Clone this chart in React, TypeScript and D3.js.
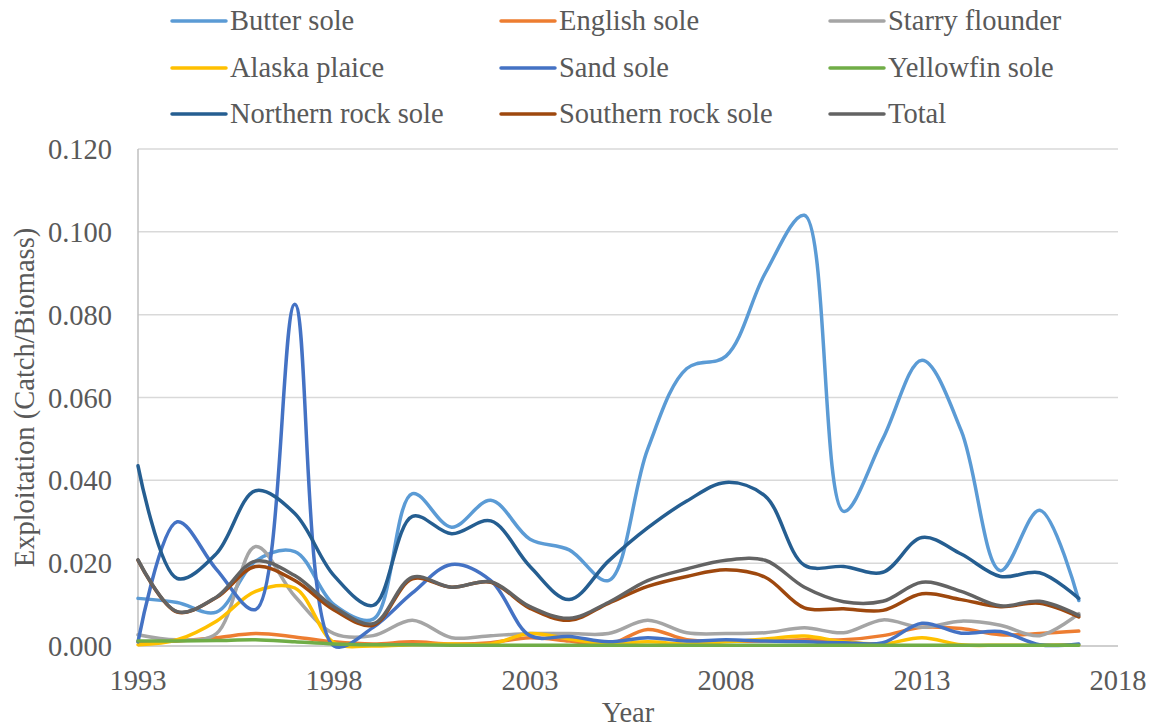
import * as React from 'react';
import * as d3 from 'd3';

const YEARS = [1993, 1994, 1995, 1996, 1997, 1998, 1999, 2000, 2001, 2002, 2003, 2004, 2005,
    2006, 2007, 2008, 2009, 2010, 2011, 2012, 2013, 2014, 2015, 2016, 2017];

const BUTTER_SOLE = [0.0115, 0.0105, 0.0082, 0.0205, 0.0228, 0.0100, 0.0065, 0.0368, 0.0287, 0.0352, 0.0258, 0.0232, 0.0158,
    0.0475, 0.0670, 0.0700, 0.0900, 0.1040, 0.0325, 0.0500, 0.0690, 0.0520, 0.0182, 0.0328, 0.0110];
const ENGLISH_SOLE = [0.0010, 0.0012, 0.0020, 0.0030, 0.0022, 0.0010, 0.0005, 0.0010, 0.0005, 0.0008, 0.0020, 0.0012, 0.0003,
    0.0040, 0.0015, 0.0012, 0.0012, 0.0015, 0.0015, 0.0025, 0.0045, 0.0042, 0.0027, 0.0030, 0.0036];
const STARRY_FLOUNDER = [0.0027, 0.0015, 0.0030, 0.0240, 0.0120, 0.0030, 0.0025, 0.0062, 0.0020, 0.0025, 0.0030, 0.0030, 0.0030,
    0.0062, 0.0032, 0.0030, 0.0032, 0.0044, 0.0032, 0.0063, 0.0045, 0.0060, 0.0050, 0.0025, 0.0078];
const ALASKA_PLAICE = [0.0003, 0.0015, 0.0060, 0.0132, 0.0140, 0.0008, 0.0000, 0.0003, 0.0005, 0.0005, 0.0030, 0.0017, 0.0005,
    0.0010, 0.0005, 0.0010, 0.0017, 0.0024, 0.0010, 0.0005, 0.0020, 0.0003, 0.0002, 0.0002, 0.0003];
const SAND_SOLE = [0.0010, 0.0300, 0.0185, 0.0088, 0.0825, 0.0000, 0.0045, 0.0128, 0.0197, 0.0158, 0.0025, 0.0023, 0.0010,
    0.0020, 0.0012, 0.0015, 0.0012, 0.0010, 0.0008, 0.0008, 0.0055, 0.0031, 0.0035, 0.0003, 0.0005];
const YELLOWFIN_SOLE = [0.0012, 0.0012, 0.0013, 0.0015, 0.0010, 0.0005, 0.0003, 0.0003, 0.0002, 0.0002, 0.0002, 0.0002, 0.0002,
    0.0002, 0.0002, 0.0002, 0.0002, 0.0002, 0.0002, 0.0002, 0.0002, 0.0002, 0.0002, 0.0002, 0.0002];
const NORTHERN_ROCK_SOLE = [0.0435, 0.0163, 0.0223, 0.0375, 0.0320, 0.0170, 0.0098, 0.0313, 0.0271, 0.0302, 0.0192, 0.0112, 0.0205,
    0.0285, 0.0350, 0.0395, 0.0362, 0.0195, 0.0192, 0.0178, 0.0262, 0.0222, 0.0168, 0.0177, 0.0115];
const SOUTHERN_ROCK_SOLE = [0.0207, 0.0082, 0.0117, 0.0192, 0.0158, 0.0087, 0.0050, 0.0162, 0.0142, 0.0154, 0.0091, 0.0062, 0.0103,
    0.0144, 0.0168, 0.0184, 0.0166, 0.0092, 0.0090, 0.0086, 0.0126, 0.0112, 0.0095, 0.0103, 0.0070];
const TOTAL = [0.0208, 0.0083, 0.0118, 0.0205, 0.0170, 0.0094, 0.0054, 0.0166, 0.0142, 0.0155, 0.0095, 0.0067, 0.0105,
    0.0158, 0.0186, 0.0207, 0.0207, 0.0142, 0.0107, 0.0108, 0.0154, 0.0132, 0.0097, 0.0108, 0.0074];

const SERIES_NAMES = ['Butter sole', 'English sole', 'Starry flounder', 'Alaska plaice', 'Sand sole',
    'Yellowfin sole', 'Northern rock sole', 'Southern rock sole', 'Total'];
const SERIES_VALUES = [BUTTER_SOLE, ENGLISH_SOLE, STARRY_FLOUNDER, ALASKA_PLAICE, SAND_SOLE,
    YELLOWFIN_SOLE, NORTHERN_ROCK_SOLE, SOUTHERN_ROCK_SOLE, TOTAL];
const SERIES_COLORS = ['#5B9BD5', '#ED7D31', '#A5A5A5', '#FFC000', '#4472C4',
    '#70AD47', '#255E91', '#9E480E', '#636363'];

const X_TICKS = [1993, 1998, 2003, 2008, 2013, 2018];
const Y_TICKS = [0, 0.02, 0.04, 0.06, 0.08, 0.1, 0.12];

const WIDTH = 1154;
const HEIGHT = 728;
const MARGINS = { top: 149, left: 138, right: 36, bottom: 82 };
const FONT = "'Times New Roman', 'Liberation Serif', Tinos, 'DejaVu Serif', serif";
const FONT_SIZE = '28.5px';
const TEXT_COLOR = '#595959';

export default function App() {
    const ref = React.useRef<SVGSVGElement>(null);

    React.useEffect(() => {
        const svg = d3.select(ref.current);
        svg.selectAll('*').remove();

        const w = WIDTH - MARGINS.left - MARGINS.right;
        const h = HEIGHT - MARGINS.top - MARGINS.bottom;

        const xScale = d3.scaleLinear().domain([1993, 2018]).range([0, w]);
        const yScale = d3.scaleLinear().domain([0, 0.12]).range([h, 0]);

        const canvas = svg.append('g')
            .attr('transform', 'translate(' + [MARGINS.left, MARGINS.top] + ')');

        // horizontal grid lines
        canvas.append('g').selectAll('line')
            .data(Y_TICKS)
            .join('line')
            .attr('x1', 0)
            .attr('x2', w)
            .attr('y1', d => yScale(d))
            .attr('y2', d => yScale(d))
            .attr('stroke', d => d === 0 ? '#BFBFBF' : '#D9D9D9')
            .attr('stroke-width', 1.5);

        // vertical axis line
        canvas.append('line')
            .attr('x1', 0).attr('x2', 0)
            .attr('y1', 0).attr('y2', h)
            .attr('stroke', '#BFBFBF')
            .attr('stroke-width', 1.5);

        // y tick labels
        canvas.append('g').selectAll('text')
            .data(Y_TICKS)
            .join('text')
            .attr('transform', d => 'translate(' + [-26, yScale(d) + 10] + ') scale(1,1.06)')
            .attr('text-anchor', 'end')
            .text(d => d3.format('.3f')(d));

        // x tick labels
        canvas.append('g').selectAll('text')
            .data(X_TICKS)
            .join('text')
            .attr('transform', d => 'translate(' + [xScale(d), h + 44] + ') scale(1,1.06)')
            .attr('text-anchor', 'middle')
            .text(d => String(d));

        // axis titles
        canvas.append('text')
            .attr('transform', 'translate(' + [w / 2, h + 76] + ') scale(1,1.06)')
            .attr('text-anchor', 'middle')
            .text('Year');

        canvas.append('text')
            .attr('transform', 'translate(' + [-104, h / 2] + ') rotate(-90) scale(1,1.06)')
            .attr('text-anchor', 'middle')
            .text('Exploitation (Catch/Biomass)');

        // smoothed series lines
        const line = d3.line<number>()
            .x((d, i) => xScale(YEARS[i]))
            .y(d => yScale(d))
            .curve(d3.curveCatmullRom.alpha(0.5));

        canvas.append('g').selectAll('path')
            .data(SERIES_VALUES)
            .join('path')
            .attr('d', d => line(d))
            .attr('fill', 'none')
            .attr('stroke', (d, i) => SERIES_COLORS[i])
            .attr('stroke-width', 3.5)
            .attr('stroke-linejoin', 'round')
            .attr('stroke-linecap', 'round');

        // legend
        const colX = [172, 501, 830];
        const rowY = [21, 68, 114];
        const legend = svg.append('g');
        const items = legend.selectAll('g')
            .data(SERIES_NAMES)
            .join('g')
            .attr('transform', (d, i) => 'translate(' + [colX[i % 3], rowY[Math.floor(i / 3)]] + ')');

        items.append('line')
            .attr('x1', 0).attr('x2', 54)
            .attr('y1', 0).attr('y2', 0)
            .attr('stroke', (d, i) => SERIES_COLORS[i])
            .attr('stroke-width', 3.5)
            .attr('stroke-linecap', 'round');

        items.append('text')
            .attr('transform', 'translate(58,9) scale(1,1.06)')
            .text(d => d);

        svg.selectAll('text')
            .style('font-family', FONT)
            .style('font-size', FONT_SIZE)
            .attr('fill', TEXT_COLOR);
    }, []);

    return (
        <svg
            ref={ref}
            width={WIDTH}
            height={HEIGHT}
            style={{ position: 'absolute', left: 0, top: 0, background: '#fff' }}
        />
    );
}
